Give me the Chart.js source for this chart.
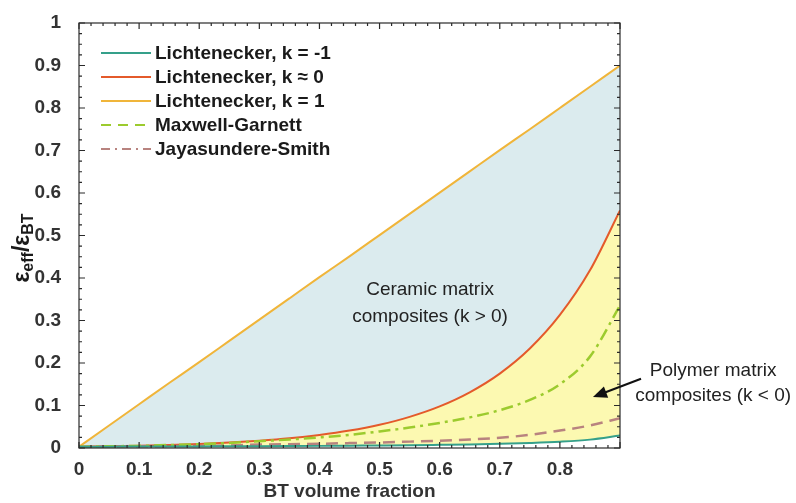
<!DOCTYPE html>
<html>
<head>
<meta charset="utf-8">
<script src="https://cdn.jsdelivr.net/npm/chart.js@4"></script>
<style>
  body { margin: 0; background: #fff; }
  #wrap { width: 796px; height: 503px; }
</style>
</head>
<body>
<div id="wrap"><canvas id="chartBT"></canvas></div>
<script>
// BT volume fraction (x) and normalised permittivity eps_eff / eps_BT (y)
var fraction = [0, 0.05, 0.1, 0.15, 0.2, 0.25, 0.3, 0.35, 0.4, 0.45, 0.5, 0.55, 0.6, 0.65, 0.7, 0.75, 0.8, 0.85, 0.9];
var lichtMinusOne = [0.003, 0.0032, 0.0033, 0.0035, 0.0038, 0.004, 0.0043, 0.0046, 0.005, 0.0055, 0.006, 0.0066, 0.0075, 0.0085, 0.0099, 0.0119, 0.0148, 0.0197, 0.0292];
var lichtZero = [0.003, 0.004, 0.0054, 0.0072, 0.0096, 0.0128, 0.0172, 0.0229, 0.0307, 0.041, 0.0548, 0.0733, 0.0979, 0.131, 0.175, 0.234, 0.313, 0.418, 0.559];
var lichtOne = [0.003, 0.053, 0.103, 0.153, 0.202, 0.252, 0.302, 0.352, 0.402, 0.451, 0.501, 0.551, 0.601, 0.651, 0.701, 0.75, 0.8, 0.85, 0.9];
var maxwellGarnett = [0.003, 0.004, 0.005, 0.007, 0.009, 0.012, 0.016, 0.02, 0.025, 0.031, 0.039, 0.048, 0.059, 0.072, 0.089, 0.113, 0.15, 0.215, 0.335];
var jayasundereSmith = [0.003, 0.0035, 0.004, 0.0045, 0.005, 0.006, 0.008, 0.009, 0.01, 0.0115, 0.013, 0.015, 0.017, 0.02, 0.024, 0.031, 0.041, 0.053, 0.07];

var seriesNames = ['Lichtenecker, k = -1', 'Lichtenecker, k \u2248 0', 'Lichtenecker, k = 1', 'Maxwell-Garnett', 'Jayasundere-Smith'];
var xTickLabels = ['0', '0.1', '0.2', '0.3', '0.4', '0.5', '0.6', '0.7', '0.8'];
var yTickLabels = ['0', '0.1', '0.2', '0.3', '0.4', '0.5', '0.6', '0.7', '0.8', '0.9', '1'];

var FONT = "'Liberation Sans', Arial, Helvetica, sans-serif";
var colors = ['#35a08a', '#e45a2b', '#f0b53a', '#9ccb2e', '#b8837f'];
var legendDash = [[], [], [], [10, 7], [9, 5, 2, 5]];

function pts(ys) {
  return fraction.map(function (x, i) { return { x: x, y: ys[i] }; });
}

// box around the axes with inward major/minor ticks
var axesBox = {
  id: 'axesBox',
  afterDatasetsDraw: function (chart) {
    var ctx = chart.ctx, a = chart.chartArea;
    var xs = chart.scales.x, ys = chart.scales.y;
    ctx.save();
    ctx.strokeStyle = '#2a2a2a';
    ctx.lineWidth = 1.2;
    ctx.strokeRect(a.left, a.top, a.right - a.left, a.bottom - a.top);
    ctx.beginPath();
    for (var i = 0; i <= 45; i++) {
      var px = xs.getPixelForValue(i * 0.02);
      var len = i % 5 === 0 ? 6 : 3;
      ctx.moveTo(px, a.bottom); ctx.lineTo(px, a.bottom - len);
      ctx.moveTo(px, a.top); ctx.lineTo(px, a.top + len);
    }
    for (var j = 0; j <= 40; j++) {
      var py = ys.getPixelForValue(j * 0.025);
      var l2 = j % 4 === 0 ? 6 : 3;
      ctx.moveTo(a.left, py); ctx.lineTo(a.left + l2, py);
      ctx.moveTo(a.right, py); ctx.lineTo(a.right - l2, py);
    }
    ctx.stroke();
    ctx.restore();
  }
};

// legend in the top-left corner of the axes
var cornerLegend = {
  id: 'cornerLegend',
  afterDraw: function (chart) {
    var ctx = chart.ctx, a = chart.chartArea;
    ctx.save();
    ctx.font = 'bold 19px ' + FONT;
    ctx.textBaseline = 'middle';
    ctx.textAlign = 'left';
    chart.data.datasets.forEach(function (ds, i) {
      var y = a.top + 30 + i * 24;
      ctx.strokeStyle = ds.borderColor;
      ctx.lineWidth = 2;
      ctx.setLineDash(legendDash[i]);
      ctx.beginPath();
      ctx.moveTo(a.left + 22, y);
      ctx.lineTo(a.left + 72, y);
      ctx.stroke();
      ctx.setLineDash([]);
      ctx.fillStyle = '#1a1a1a';
      ctx.fillText(ds.label, a.left + 76, y + 1);
    });
    ctx.restore();
  }
};

// region labels, arrow and y-axis title with subscripts
var notes = {
  id: 'notes',
  afterDraw: function (chart) {
    var ctx = chart.ctx, a = chart.chartArea;
    var xs = chart.scales.x, ys = chart.scales.y;
    ctx.save();
    ctx.fillStyle = '#222';
    ctx.font = '19px ' + FONT;
    ctx.textAlign = 'center';
    ctx.textBaseline = 'middle';
    ctx.fillText('Ceramic matrix', xs.getPixelForValue(0.584), ys.getPixelForValue(0.372));
    ctx.fillText('composites (k > 0)', xs.getPixelForValue(0.584), ys.getPixelForValue(0.309));
    ctx.fillText('Polymer matrix', xs.getPixelForValue(1.055), ys.getPixelForValue(0.181));
    ctx.fillText('composites (k < 0)', xs.getPixelForValue(1.055), ys.getPixelForValue(0.122));

    // arrow
    var x1 = xs.getPixelForValue(0.935), y1 = ys.getPixelForValue(0.163);
    var x2 = xs.getPixelForValue(0.855), y2 = ys.getPixelForValue(0.12);
    var ang = Math.atan2(y2 - y1, x2 - x1);
    ctx.strokeStyle = '#111';
    ctx.fillStyle = '#111';
    ctx.lineWidth = 2;
    ctx.beginPath();
    ctx.moveTo(x1, y1);
    ctx.lineTo(x2 - 10 * Math.cos(ang), y2 - 10 * Math.sin(ang));
    ctx.stroke();
    ctx.beginPath();
    ctx.moveTo(x2, y2);
    ctx.lineTo(x2 - 14 * Math.cos(ang) + 6 * Math.sin(ang), y2 - 14 * Math.sin(ang) - 6 * Math.cos(ang));
    ctx.lineTo(x2 - 14 * Math.cos(ang) - 6 * Math.sin(ang), y2 - 14 * Math.sin(ang) + 6 * Math.cos(ang));
    ctx.closePath();
    ctx.fill();

    // y title: eps_eff / eps_BT
    var parts = [
      { t: '\u03b5', f: 'bold 23px ' + FONT, dy: 0 },
      { t: 'eff', f: 'bold 16px ' + FONT, dy: 6 },
      { t: '/\u03b5', f: 'bold 23px ' + FONT, dy: 0 },
      { t: 'BT', f: 'bold 16px ' + FONT, dy: 6 }
    ];
    var total = 0;
    parts.forEach(function (p) { ctx.font = p.f; p.w = ctx.measureText(p.t).width; total += p.w; });
    ctx.translate(23, 248);
    ctx.rotate(-Math.PI / 2);
    ctx.fillStyle = '#1a1a1a';
    ctx.textAlign = 'left';
    ctx.textBaseline = 'middle';
    var cx = -total / 2;
    parts.forEach(function (p) {
      ctx.font = p.f;
      ctx.fillText(p.t, cx, p.dy);
      cx += p.w;
    });
    ctx.restore();
  }
};

var sets = [lichtMinusOne, lichtZero, lichtOne, maxwellGarnett, jayasundereSmith];
var datasets = sets.map(function (s, i) {
  return {
    label: seriesNames[i],
    data: pts(s),
    borderColor: colors[i],
    borderWidth: i < 3 ? 2 : 2.5,
    pointRadius: 0,
    cubicInterpolationMode: 'monotone',
    fill: false
  };
});
// Lichtenecker k≈0 fills down to k=-1 (yellow); k=1 fills down to k≈0 (blue)
datasets[1].fill = 0;
datasets[1].backgroundColor = '#fcf9b1';
datasets[1].order = 2;
datasets[2].fill = 1;
datasets[2].backgroundColor = '#dbebee';
datasets[2].order = 3;
datasets[3].borderDash = [12, 5, 3, 5];
datasets[3].order = 1;
datasets[4].borderDash = [12, 7];
datasets[4].order = 1;
datasets[0].order = 0;

var btChart = new Chart(document.getElementById('chartBT'), {
  type: 'line',
  data: { datasets: datasets },
  options: {
    responsive: true,
    maintainAspectRatio: false,
    animation: false,
    layout: { padding: { left: 0, right: 176, top: 23, bottom: 0 } },
    plugins: {
      legend: { display: false },
      tooltip: { enabled: false }
    },
    scales: {
      x: {
        type: 'linear',
        min: 0,
        max: 0.9,
        grid: { display: false },
        border: { display: false },
        afterFit: function (s) { s.height = 55; },
        ticks: {
          stepSize: 0.1,
          autoSkip: false,
          maxRotation: 0,
          padding: 2,
          color: '#333',
          font: { family: FONT, size: 19, weight: 'bold' },
          callback: function (v, i) { return xTickLabels[i] !== undefined ? xTickLabels[i] : ''; }
        },
        title: {
          display: true,
          text: 'BT volume fraction',
          color: '#333',
          padding: { top: 0, bottom: 0 },
          font: { family: FONT, size: 19, weight: 'bold' }
        }
      },
      y: {
        min: 0,
        max: 1,
        grid: { display: false },
        border: { display: false },
        afterFit: function (s) { s.width = 79; },
        ticks: {
          stepSize: 0.1,
          padding: 10,
          color: '#333',
          font: { family: FONT, size: 19, weight: 'bold' },
          callback: function (v, i) { return yTickLabels[i]; }
        }
      }
    }
  },
  plugins: [axesBox, cornerLegend, notes]
});
</script>
</body>
</html>
